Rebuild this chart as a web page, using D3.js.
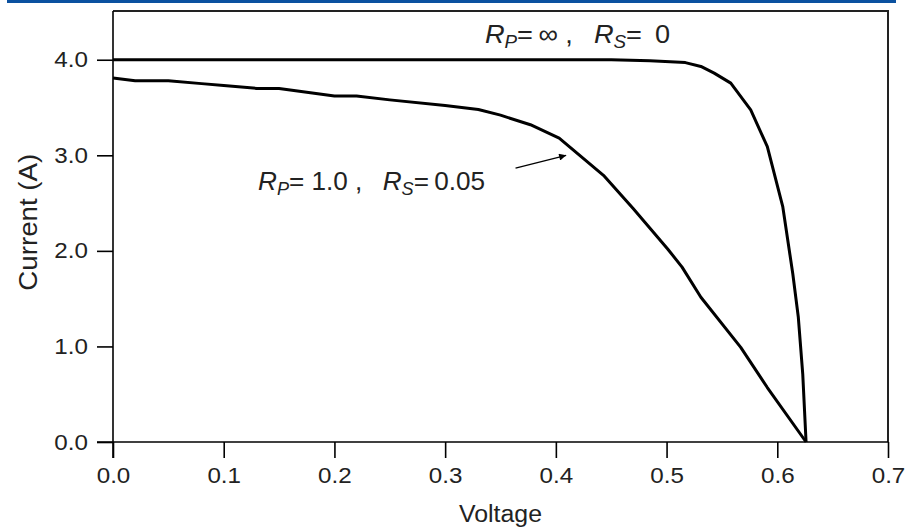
<!DOCTYPE html>
<html>
<head>
<meta charset="utf-8">
<script src="https://cdn.jsdelivr.net/npm/d3@7"></script>
<style>
	body { margin: 0; background: #fff; }
	svg { display: block; font-family: "Liberation Sans", Arial, Helvetica, sans-serif; }
	.curve { fill: none; stroke: #000; stroke-width: 3; stroke-linejoin: round; }
	.axis path, .axis line { stroke: #000; stroke-width: 1.6; }
</style>
</head>
<body>
<div id="chart"></div>
<script>
'use strict';

// ideal cell: Rp = inf, Rs = 0
var idealVoltage = [0, 0.1, 0.2, 0.3, 0.4, 0.45, 0.485, 0.517, 0.531, 0.543, 0.558, 0.576, 0.591, 0.605, 0.614, 0.619, 0.623, 0.626];
var idealCurrent = [4.0, 4.0, 4.0, 4.0, 4.0, 4.0, 3.99, 3.97, 3.93, 3.86, 3.755, 3.475, 3.09, 2.46, 1.76, 1.305, 0.71, 0.0];

// real cell: Rp = 1.0, Rs = 0.05
var realVoltage = [0, 0.02, 0.05, 0.08, 0.1, 0.13, 0.15, 0.2, 0.22, 0.25, 0.3, 0.33, 0.35, 0.377, 0.403, 0.443, 0.47, 0.501, 0.514, 0.531, 0.567, 0.591, 0.626];
var realCurrent = [3.81, 3.78, 3.78, 3.75, 3.73, 3.70, 3.70, 3.62, 3.62, 3.58, 3.52, 3.48, 3.42, 3.32, 3.18, 2.79, 2.44, 2.02, 1.83, 1.515, 0.99, 0.57, 0.0];

var xTicks = [0, 0.1, 0.2, 0.3, 0.4, 0.5, 0.6, 0.7];
var yTicks = [0, 1, 2, 3, 4];

// annotation anchors, in data units
var arrowFrom = [0.3636, 2.866];
var arrowTo = [0.4093, 3.0];
var labelIdeal = { x: 0.336, y: 4.175, rp: '\u2009\u221e', rs: '\u2009 0', width: 185 };
var labelReal = { x: 0.131, y: 2.637, rp: ' 1.0', rs: '\u20090.05', width: 227 };

var stage = { width: 906, height: 528 };
var margin = { top: 11, right: 18, bottom: 86, left: 113 };

var x = d3.scaleLinear()
	.domain([0, 0.7])
	.range([margin.left, stage.width - margin.right]);

var y = d3.scaleLinear()
	.domain([0, 4.51])
	.range([stage.height - margin.bottom, margin.top]);

// the source art has wide lettering, so stretch text sideways
var stretch = function(sel, factor, fixedWidth) {
	sel.each(function() {
		var w = fixedWidth || this.getComputedTextLength() * factor;
		d3.select(this)
			.attr('textLength', w)
			.attr('lengthAdjust', 'spacingAndGlyphs');
	});
};

var svg = d3.select('#chart')
	.append('svg')
	.attr('width', stage.width)
	.attr('height', stage.height)
	.attr('xmlns', 'http://www.w3.org/2000/svg');

svg.append('defs').append('marker')
	.attr('id', 'arrowhead')
	.attr('viewBox', '0 0 10 10')
	.attr('refX', 10)
	.attr('refY', 5)
	.attr('markerWidth', 11)
	.attr('markerHeight', 7)
	.attr('markerUnits', 'userSpaceOnUse')
	.attr('orient', 'auto')
	.append('path')
	.attr('d', 'M0,0L10,5L0,10z')
	.attr('fill', '#000');

// blue page rule along the top
svg.append('rect')
	.attr('x', 7)
	.attr('y', 0)
	.attr('width', 889)
	.attr('height', 3)
	.attr('fill', '#0b51a0');

// FRAME (top + right)
svg.append('path')
	.attr('d', 'M' + x(0) + ',' + y.range()[1] + 'H' + x(0.7) + 'V' + y(0))
	.attr('fill', 'none')
	.attr('stroke', '#222')
	.attr('stroke-width', 2);

// AXES
var xAxis = svg.append('g')
	.attr('class', 'axis')
	.attr('transform', 'translate(0,' + y(0) + ')')
	.call(d3.axisBottom(x).tickValues(xTicks).tickFormat(d3.format('.1f')).tickSize(16).tickPadding(9))
	.call(function(g) {
		g.select('.domain').attr('d', 'M' + (x(0) - 16) + ',0H' + x(0.7));
	});

var yAxis = svg.append('g')
	.attr('class', 'axis')
	.attr('transform', 'translate(' + x(0) + ',0)')
	.call(d3.axisLeft(y).tickValues(yTicks).tickFormat(d3.format('.1f')).tickSize(16).tickPadding(9))
	.call(function(g) {
		g.select('.domain').attr('d', 'M0,' + (y(0) + 16) + 'V' + y.range()[1]);
	});

[xAxis, yAxis].forEach(function(g) {
	g.attr('font-size', null).attr('font-family', null);
	var labels = g.selectAll('text')
		.attr('font-size', 22)
		.attr('fill', '#222');
	stretch(labels, 1.1);
});

// axis titles
svg.append('text')
	.attr('x', (x(0) + x(0.7)) / 2)
	.attr('y', 522)
	.attr('text-anchor', 'middle')
	.attr('font-size', 23)
	.attr('fill', '#222')
	.text('Voltage')
	.call(stretch, 1, 83);

svg.append('text')
	.attr('transform', 'translate(37,' + y(2.3) + ') rotate(-90)')
	.attr('text-anchor', 'middle')
	.attr('font-size', 26)
	.attr('fill', '#222')
	.text('Current (A)')
	.call(stretch, 1, 137);

// CURVES
var line = d3.line()
	.x(function(d) { return x(d[0]); })
	.y(function(d) { return y(d[1]); });

svg.append('path')
	.datum(d3.zip(idealVoltage, idealCurrent))
	.attr('class', 'curve')
	.attr('d', line);

svg.append('path')
	.datum(d3.zip(realVoltage, realCurrent))
	.attr('class', 'curve')
	.attr('d', line);

// ANNOTATIONS
var drawLabel = function(label) {
	var t = svg.append('text')
		.attr('x', x(label.x))
		.attr('y', y(label.y))
		.attr('font-size', 26)
		.attr('fill', '#222');
	t.append('tspan').attr('font-style', 'italic').text('R');
	t.append('tspan').attr('font-style', 'italic').attr('font-size', 18).attr('dy', 5).text('P');
	t.append('tspan').attr('dy', -5).text('=' + label.rp + ' ,\u2002 ');
	t.append('tspan').attr('font-style', 'italic').text('R');
	t.append('tspan').attr('font-style', 'italic').attr('font-size', 18).attr('dy', 5).text('S');
	t.append('tspan').attr('dy', -5).text('=' + label.rs);
	stretch(t, 1, label.width);
};

drawLabel(labelIdeal);
drawLabel(labelReal);

svg.append('line')
	.attr('x1', x(arrowFrom[0]))
	.attr('y1', y(arrowFrom[1]))
	.attr('x2', x(arrowTo[0]))
	.attr('y2', y(arrowTo[1]))
	.attr('stroke', '#000')
	.attr('stroke-width', 1.3)
	.attr('marker-end', 'url(#arrowhead)');
</script>
</body>
</html>
